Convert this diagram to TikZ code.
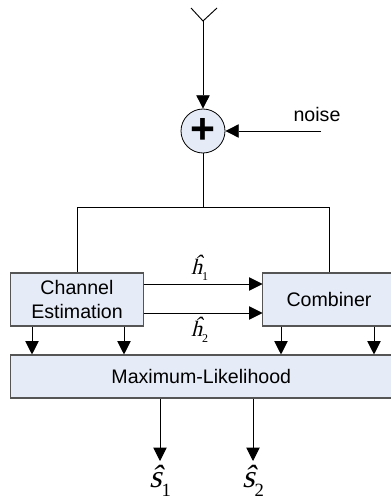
\documentclass[tikz,border=0pt]{standalone}
\usepackage{amsmath}
\usepackage{fontspec}
\setmainfont{Liberation Sans}
\newfontface\serifit{Liberation Serif}[FakeSlant=0.25]
\newfontface\serifup{Liberation Serif}
\usepackage{tikz}
\usetikzlibrary{positioning,arrows.meta}
\definecolor{boxfill}{RGB}{230,236,247}
\definecolor{boxline}{RGB}{85,85,85}
\newcommand{\hatsym}[3]{{\serifit #1}\raisebox{-0.3em}{\fontsize{#3}{#3}\selectfont\serifup #2}}

\begin{document}
\begin{tikzpicture}[x=0.75pt,y=-0.75pt,>={Triangle[length=10pt,width=10pt]},on grid,auto,
  block/.style={draw=boxline,fill=boxfill,line width=0.8pt,inner sep=0pt,align=center,font=\fontsize{14.7}{18}\selectfont},
  est/.style={block,minimum width=99.75pt,minimum height=39.75pt},
  comb/.style={block,minimum width=99.75pt,minimum height=39.75pt},
  ml/.style={block,minimum width=286.4pt,minimum height=32.25pt},
  adder/.style={draw=black,fill=boxfill,circle,line width=0.6pt,minimum size=33pt,inner sep=0pt,font=\fontsize{32}{32}\selectfont\bfseries},
  wire/.style={line width=0.7pt},
  pt/.style={inner sep=0pt,outer sep=0pt,minimum size=0pt}]
\useasboundingbox (0,0) rectangle (391,499);
\clip (0,0) rectangle (391,499);
\node[pt] (tip) at (203,21) {};
\coordinate (ant_l) at (191,8);
\coordinate (ant_r) at (217,8);
\node[adder] (add) at (203,131) {+};
\coordinate (nz) at (321,131);
\node[font=\fontsize{14.7}{16}\selectfont] (noise) at (317,114) {noise};
\coordinate (split) at (203,207);
\node[est] (ce) at (77,299.5) {Channel\\Estimation};
\node[comb] (cb) [right=189pt of ce] {Combiner};
\node[ml] (ml) at (201.3,376.5) {Maximum-Likelihood};
\coordinate (tl) at (77,207);
\coordinate (tr) at (329,207);
\coordinate (ce_u) at (143.5,284);
\coordinate (ce_d) at (143.5,313);
\coordinate (cb_u) at (262.5,284);
\coordinate (cb_d) at (262.5,313);
\coordinate (o1) at (160,461);
\coordinate (o2) at (253,461);
\node[inner sep=0pt,font=\fontsize{16.5}{18}\selectfont] (h1) at (199.5,268) {\hatsym{ĥ}{1}{9}};
\node[inner sep=0pt,font=\fontsize{16.5}{18}\selectfont] (h2) at (199.5,330) {\hatsym{ĥ}{2}{9}};
\node[inner sep=0pt,font=\fontsize{24}{26}\selectfont] (s1) at (160,481) {\hatsym{ŝ}{1}{14}};
\node[inner sep=0pt,font=\fontsize{24}{26}\selectfont] (s2) at (253,481) {\hatsym{ŝ}{2}{14}};

\draw[wire] (ant_l) -- (tip.center) -- (ant_r);
\draw[wire,->] (tip.center) -- (add);
\draw[wire,->] (nz) -- (add);
\draw[wire] (add) -- (split);
\draw[wire] (ce.north -| tl) -- (tl) -- (tr) -- (cb.north -| tr);
\draw[wire,->] (ce_u) -- (cb_u);
\draw[wire,->] (ce_d) -- (cb_d);
\foreach \x in {32,124}
  \draw[wire,->] (ce.south -| \x,0) -- (ml.north -| \x,0);
\foreach \x in {281,374}
  \draw[wire,->] (cb.south -| \x,0) -- (ml.north -| \x,0);
\draw[wire,->] (ml.south -| o1) -- (o1);
\draw[wire,->] (ml.south -| o2) -- (o2);
\end{tikzpicture}
\end{document}
